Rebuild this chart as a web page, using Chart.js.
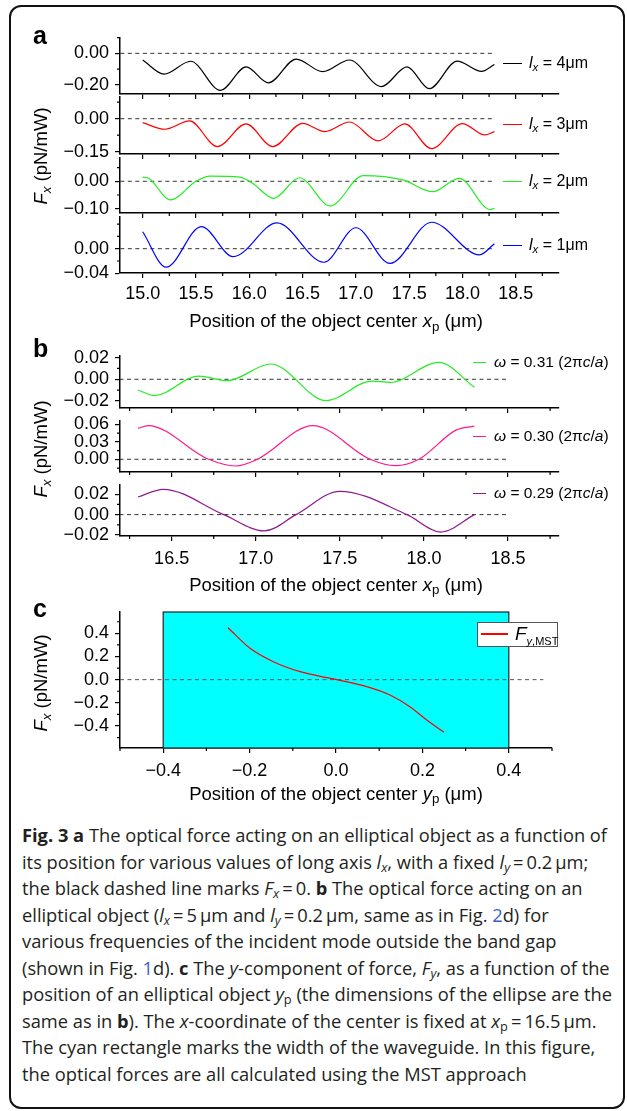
<!DOCTYPE html>
<html>
<head>
<meta charset="utf-8">
<script src="https://cdn.jsdelivr.net/npm/chart.js"></script>
<style>
  html, body { margin: 0; padding: 0; background: #fff; }
  #fig { position: relative; width: 627px; height: 1111px; overflow: hidden;
         font-family: "Liberation Sans", Arial, sans-serif; color: #000; }
  #frame { position: absolute; left: 9px; top: 5px; width: 616px; height: 1104px;
           box-sizing: border-box; border: 2.5px solid #111; border-radius: 12px; }
  canvas { position: absolute; left: 0; }
  .t { position: absolute; white-space: nowrap; }
  .sub { font-size: 0.72em; position: relative; top: 0.3em; }
  .lbl { font-weight: bold; font-size: 25px; line-height: 25px; }
  .ttl { font-size: 18.5px; line-height: 18px; }
  .leg { font-size: 16px; line-height: 16px; }
  .seg { position: absolute; height: 0; }
  #cap { position: absolute; left: 22px; top: 822px; transform-origin: 0 0;
         font-family: "Open Sans", "Noto Sans", sans-serif; font-size: 18px; line-height: 26.5px; color: #231f20; }
  #cap div { white-space: nowrap; }
  #cap .cs { font-size: 0.7em; vertical-align: -0.25em; line-height: 0; }
  #cap .lnk { color: #3a5fcd; }
</style>
</head>
<body>
<div id="fig"><div id="frame"></div></div>
<script>
// ---------- data ----------
// panel a: F_x vs x_p for l_x = 4, 3, 2, 1 um
const lx4X = [15.00, 15.20, 15.45, 15.73, 15.97, 16.18, 16.44, 16.69, 16.94, 17.24, 17.48, 17.69, 17.95, 18.18, 18.30];
const lx4Y = [-0.042, -0.131, -0.050, -0.234, -0.086, -0.187, -0.036, -0.116, -0.042, -0.210, -0.086, -0.223, -0.049, -0.114, -0.070];
const lx3X = [15.00, 15.21, 15.44, 15.70, 15.97, 16.22, 16.50, 16.71, 16.94, 17.21, 17.46, 17.71, 18.00, 18.21, 18.30];
const lx3Y = [-0.018, -0.048, -0.010, -0.127, -0.024, -0.127, -0.021, -0.059, -0.015, -0.101, -0.024, -0.136, -0.022, -0.074, -0.059];
const lx2X = [15.00, 15.06, 15.26, 15.50, 15.63, 15.91, 16.03, 16.23, 16.47, 16.76, 17.07, 17.44, 17.72, 17.97, 18.26, 18.30];
const lx2Y = [0.015, 0.010, -0.068, 0.000, 0.019, 0.015, -0.007, -0.062, 0.013, -0.090, 0.021, 0.005, -0.038, 0.011, -0.103, -0.099];
const lx1X = [15.00, 15.22, 15.55, 15.85, 16.26, 16.70, 17.00, 17.32, 17.71, 18.16, 18.30];
const lx1Y = [0.0275, -0.030, 0.036, -0.013, 0.042, -0.022, 0.034, -0.024, 0.043, -0.010, 0.008];

// panel b: omega = 0.31, 0.30, 0.29 (2πc/a)
const w31X = [16.30, 16.40, 16.66, 16.83, 17.09, 17.42, 17.69, 17.80, 18.09, 18.30];
const w31Y = [-0.0099, -0.0151, 0.0030, -0.0013, 0.0141, -0.0197, -0.0016, -0.0028, 0.0157, -0.0074];
const w30X = [16.30, 16.36, 16.72, 16.88, 17.01, 17.34, 17.68, 17.83, 17.97, 18.19, 18.30];
const w30Y = [0.053, 0.0577, 0.000, -0.0115, 0.000, 0.0577, 0.000, -0.011, 0.000, 0.050, 0.057];
const w29X = [16.30, 16.45, 16.81, 17.05, 17.24, 17.50, 17.90, 18.10, 18.30];
const w29Y = [0.0173, 0.0249, 0.000, -0.016, 0.000, 0.0229, 0.000, -0.0171, 0.000];

// panel c: F_y,MST vs y_p
const fyX = [-0.25, -0.199, -0.145, -0.083, -0.006, 0.071, 0.125, 0.171, 0.21, 0.25];
const fyY = [0.448, 0.271, 0.155, 0.069, 0.006, -0.060, -0.132, -0.233, -0.348, -0.455];
const waveguide = [-0.4, 0.4];

// zero reference lines (x extents)
const zeroA = [14.79, 18.3];
const zeroB = [16.19, 18.5];
const zeroC = [-0.5, 0.48];

// legend labels
const aLegend = ['4', '3', '2', '1'];
const bLegend = ['0.31', '0.30', '0.29'];

// tick values
const aTicksX = [15.0, 15.5, 16.0, 16.5, 17.0, 17.5, 18.0, 18.5];
const aMinorX = [15.25, 15.75, 16.25, 16.75, 17.25, 17.75, 18.25, 18.75];
const bTicksX = [16.5, 17.0, 17.5, 18.0, 18.5];
const bMinorX = [16.25, 16.75, 17.25, 17.75, 18.25, 18.75];
const cTicksX = [-0.4, -0.2, 0.0, 0.2, 0.4];
const cMinorX = [-0.5, -0.3, -0.1, 0.1, 0.3, 0.5];
const a1TicksY = [0, -0.2],  a1MinorY = [0.1, -0.1];
const a2TicksY = [0, -0.15], a2MinorY = [0.075, -0.075];
const a3TicksY = [0, -0.1],  a3MinorY = [0.05, -0.05];
const a4TicksY = [0, -0.04], a4MinorY = [0.04, 0.02, -0.02];
const b1TicksY = [0.02, 0, -0.02], b1MinorY = [0.01, -0.01];
const b2TicksY = [0.06, 0.03, 0],  b2MinorY = [0.045, 0.015, -0.015];
const b3TicksY = [0.02, 0, -0.02], b3MinorY = [0.01, -0.01];
const cTicksY = [0.4, 0.2, 0, -0.2, -0.4];
const cMinorY = [0.5, 0.3, 0.1, -0.1, -0.3, -0.5];

// ---------- drawing ----------
const FONT = "'Liberation Sans', Arial, sans-serif";
const fig = document.getElementById('fig');
const fmt = (v, d) => (v < -1e-9 ? '\u2212' : '') + Math.abs(v).toFixed(d);

const curve = (xs, ys, color) => ({
    data: xs.map((x, i) => ({ x: x, y: ys[i] })),
    borderColor: color, borderWidth: 1.2, pointRadius: 0,
    cubicInterpolationMode: 'monotone', fill: false
});
const zeroLine = (ext, color) => ({
    data: ext.map(x => ({ x: x, y: 0 })),
    borderColor: color, borderWidth: 1, borderDash: [4, 3.5], pointRadius: 0, fill: false
});

// short minor ticks, drawn outward like the major ones
const minorTicks = {
    id: 'minorTicks',
    afterDraw(chart, args, opts) {
        const { ctx, scales: { x, y } } = chart;
        ctx.save();
        ctx.strokeStyle = '#000';
        ctx.lineWidth = 1.2;
        ctx.beginPath();
        (opts.x || []).forEach(v => {
            const px = x.getPixelForValue(v);
            ctx.moveTo(px, x.top); ctx.lineTo(px, x.top + 3);
        });
        (opts.y || []).forEach(v => {
            const py = y.getPixelForValue(v);
            ctx.moveTo(y.right, py); ctx.lineTo(y.right - 3, py);
        });
        ctx.stroke();
        ctx.restore();
    }
};

// cyan waveguide rectangle behind the curve
const band = {
    id: 'band',
    beforeDatasetsDraw(chart, args, opts) {
        if (!opts.range) return;
        const { ctx, chartArea: ca, scales: { x } } = chart;
        const x0 = x.getPixelForValue(opts.range[0]);
        const x1 = x.getPixelForValue(opts.range[1]);
        ctx.save();
        ctx.fillStyle = '#00ffff';
        ctx.fillRect(x0, ca.top, x1 - x0, ca.bottom - ca.top);
        ctx.strokeStyle = '#222';
        ctx.lineWidth = 1.2;
        ctx.strokeRect(x0, ca.top, x1 - x0, ca.bottom - ca.top);
        ctx.restore();
    }
};

const PAD = 24;
function plot(p) {
    const xh = p.xLabels ? 46 : 24;
    const h = (p.bottom - p.top) + PAD + xh;
    const cv = document.createElement('canvas');
    cv.width = 627; cv.height = h;
    cv.style.top = (p.top - PAD) + 'px';
    cv.style.width = '627px'; cv.style.height = h + 'px';
    fig.appendChild(cv);
    const axisFont = { family: FONT, size: 18 };
    const grid = { drawOnChartArea: false, drawTicks: true, tickLength: 5, color: '#000', lineWidth: 1.2 };
    const border = { display: true, color: '#000', width: 1.5 };
    new Chart(cv, {
        type: 'line',
        data: { datasets: p.datasets },
        options: {
            responsive: false, animation: false, devicePixelRatio: 1, events: [],
            layout: { padding: { left: 0, top: PAD, right: 627 - p.right, bottom: 0 } },
            plugins: {
                legend: { display: false }, tooltip: { enabled: false },
                minorTicks: { x: p.xMinor, y: p.yMinor },
                band: { range: p.band }
            },
            scales: {
                x: {
                    type: 'linear', position: 'bottom', min: p.xRange[0], max: p.xRange[1],
                    afterBuildTicks: s => { s.ticks = p.xTicks.map(v => ({ value: v })); },
                    afterFit: s => { s.height = xh; },
                    grid: grid, border: border,
                    ticks: {
                        autoSkip: false, minRotation: 0, maxRotation: 0, padding: p.xPad || 5,
                        color: '#000', font: axisFont,
                        callback: v => p.xLabels ? fmt(v, 1) : ''
                    }
                },
                y: {
                    type: 'linear', min: p.yRange[0], max: p.yRange[1],
                    afterBuildTicks: s => { s.ticks = p.yTicks.map(v => ({ value: v })); },
                    afterFit: s => { s.width = 120; },
                    grid: grid, border: border,
                    ticks: {
                        autoSkip: false, padding: 6, color: '#000', font: axisFont,
                        callback: v => fmt(v, p.yDec)
                    }
                }
            }
        },
        plugins: [minorTicks, band]
    });
}

function addText(html, left, top, cls, css) {
    const d = document.createElement('div');
    d.className = 't ' + (cls || '');
    d.innerHTML = html;
    d.style.left = left + 'px';
    d.style.top = top + 'px';
    if (css) d.style.cssText += css;
    fig.appendChild(d);
    return d;
}
function addSeg(left, width, cy, color, thick) {
    const d = document.createElement('div');
    d.className = 'seg';
    d.style.left = left + 'px';
    d.style.width = width + 'px';
    d.style.top = (cy - thick / 2) + 'px';
    d.style.borderTop = thick + 'px solid ' + color;
    fig.appendChild(d);
}

// panel a
const aColors = ['#000000', '#ff0000', '#22ee22', '#0000ff'];
const aSeries = [[lx4X, lx4Y], [lx3X, lx3Y], [lx2X, lx2Y], [lx1X, lx1Y]];
const aLayout = [
    { top: 38,  bottom: 94,  yRange: [-0.257, 0.097],   yTicks: a1TicksY, yMinor: a1MinorY, legY: 63.5 },
    { top: 97,  bottom: 154, yRange: [-0.1605, 0.0986], yTicks: a2TicksY, yMinor: a2MinorY, legY: 124 },
    { top: 158, bottom: 213, yRange: [-0.1157, 0.085],  yTicks: a3TicksY, yMinor: a3MinorY, legY: 181.5 },
    { top: 217, bottom: 273, yRange: [-0.0395, 0.0515], yTicks: a4TicksY, yMinor: a4MinorY, legY: 245 }
];
aLayout.forEach((l, i) => {
    plot({
        top: l.top, bottom: l.bottom, right: 559,
        xRange: [14.787, 18.906], xTicks: aTicksX, xMinor: aMinorX, xLabels: i === 3, xPad: 5,
        yRange: l.yRange, yTicks: l.yTicks, yMinor: l.yMinor, yDec: 2,
        datasets: [curve(aSeries[i][0], aSeries[i][1], aColors[i]), zeroLine(zeroA, '#333')]
    });
    addSeg(503, 19, l.legY + 0.5, aColors[i], 1.2);
    addText('<i>l</i><span class="sub"><i>x</i></span> = ' + aLegend[i] + '\u03bcm', 529, l.legY - 8.5, 'leg');
});

// panel b
const bColors = ['#22ee22', '#ff1a8c', '#8f1a8f'];
const bSeries = [[w31X, w31Y], [w30X, w30Y], [w29X, w29Y]];
const bLayout = [
    { top: 356, bottom: 408, yRange: [-0.0265, 0.0215], yTicks: b1TicksY, yMinor: b1MinorY, legY: 362.3 },
    { top: 421, bottom: 472, yRange: [-0.0218, 0.0657], yTicks: b2TicksY, yMinor: b2MinorY, legY: 435.7 },
    { top: 485, bottom: 536, yRange: [-0.021, 0.0291],  yTicks: b3TicksY, yMinor: b3MinorY, legY: 493.3 }
];
bLayout.forEach((l, i) => {
    plot({
        top: l.top, bottom: l.bottom, right: 559,
        xRange: [16.193, 18.803], xTicks: bTicksX, xMinor: bMinorX, xLabels: i === 2, xPad: 7,
        yRange: l.yRange, yTicks: l.yTicks, yMinor: l.yMinor, yDec: 2,
        datasets: [curve(bSeries[i][0], bSeries[i][1], bColors[i]), zeroLine(zeroB, '#333')]
    });
    addSeg(473, 13, l.legY + 0.5, bColors[i], 1.2);
    addText('<i>\u03c9</i> = ' + bLegend[i] + ' (2\u03c0<i>c</i>/<i>a</i>)', 494, l.legY - 8, 'leg', 'font-size:15.5px');
});

// panel c
plot({
    top: 612, bottom: 748, right: 552,
    xRange: [-0.5, 0.5], xTicks: cTicksX, xMinor: cMinorX, xLabels: true, xPad: 7,
    yRange: [-0.59, 0.584], yTicks: cTicksY, yMinor: cMinorY, yDec: 1,
    band: waveguide,
    datasets: [curve(fyX, fyY, '#ff0000'), zeroLine(zeroC, '#555')]
});
addText('', 477, 622, '', 'width:81px;height:25px;box-sizing:border-box;border:1px solid #555;background:#fff');
addSeg(481, 27, 634.3, '#ff0000', 2);
addText('<i>F</i><span style="font-size:11px;position:relative;top:5px"><i>y</i>,MST</span>', 515, 624, '', 'font-size:19px;line-height:19px');

// panel letters
addText('a', 33, 23, 'lbl');
addText('b', 33, 336, 'lbl');
addText('c', 33, 596, 'lbl');

// axis titles
const xTitle = 'Position of the object center <i>VAR</i><span class="sub">p</span> (\u03bcm)';
addText(xTitle.replace('VAR', 'x'), 336, 312, 'ttl', 'transform:translateX(-50%)');
addText(xTitle.replace('VAR', 'x'), 336, 575.5, 'ttl', 'transform:translateX(-50%)');
addText(xTitle.replace('VAR', 'y'), 336, 784.5, 'ttl', 'transform:translateX(-50%)');
const yTitle = '<i>F</i><span class="sub"><i>x</i></span> (pN/mW)';
[155.5, 448.7, 682.5].forEach(cy => {
    addText(yTitle, 42, cy, 'ttl', 'transform:translate(-50%,-50%) rotate(-90deg)');
});

// caption
const cap = document.createElement('div');
cap.id = 'cap';
cap.innerHTML = [
    '<span id="cap1"><b>Fig. 3 a</b> The optical force acting on an elliptical object as a function of</span>',
    'its position for various values of long axis <i>l</i><span class="cs"><i>x</i></span>, with a fixed <i>l</i><span class="cs"><i>y</i></span>\u2009=\u20090.2\u2009\u03bcm;',
    'the black dashed line marks <i>F</i><span class="cs"><i>x</i></span>\u2009=\u20090. <b>b</b> The optical force acting on an',
    'elliptical object (<i>l</i><span class="cs"><i>x</i></span>\u2009=\u20095\u2009\u03bcm and <i>l</i><span class="cs"><i>y</i></span>\u2009=\u20090.2\u2009\u03bcm, same as in Fig. <span class="lnk">2</span>d) for',
    'various frequencies of the incident mode outside the band gap',
    '(shown in Fig. <span class="lnk">1</span>d). <b>c</b> The <i>y</i>-component of force, <i>F</i><span class="cs"><i>y</i></span>, as a function of the',
    'position of an elliptical object <i>y</i><span class="cs">p</span> (the dimensions of the ellipse are the',
    'same as in <b>b</b>). The <i>x</i>-coordinate of the center is fixed at <i>x</i><span class="cs">p</span>\u2009=\u200916.5\u2009\u03bcm.',
    'The cyan rectangle marks the width of the waveguide. In this figure,',
    'the optical forces are all calculated using the MST approach'
].map(s => '<div>' + s + '</div>').join('');
fig.appendChild(cap);

function fitCaption() {
    cap.style.transform = 'none';
    const w = document.getElementById('cap1').getBoundingClientRect().width;
    if (w > 0) cap.style.transform = 'scaleX(' + (585 / w) + ')';
}
fitCaption();
if (document.fonts) document.fonts.ready.then(fitCaption);
</script>
</body>
</html>
